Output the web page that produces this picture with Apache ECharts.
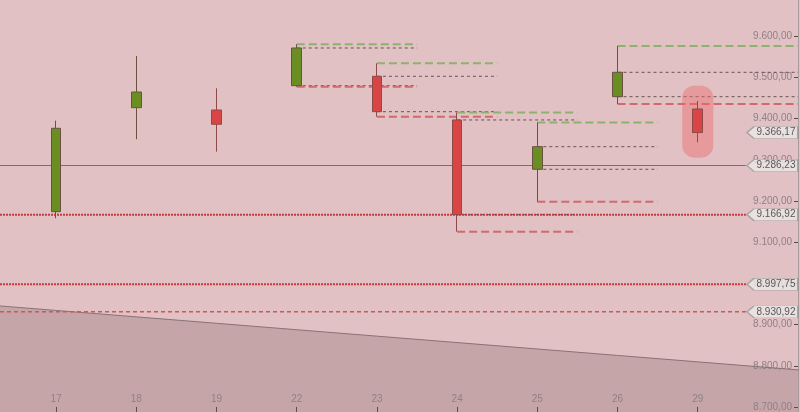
<!DOCTYPE html>
<html><head><meta charset="utf-8">
<script src="https://cdn.jsdelivr.net/npm/echarts@6/dist/echarts.min.js"></script>
<style>html,body{margin:0;padding:0;background:#e1c1c4}#c{width:800px;height:412px}</style>
</head><body><div id="c"></div>
<script>
// ---- data ----
const dates  = ['17','18','19','22','23','24','25','26','29'];
const opens  = [9174.2, 9426.6, 9421.0, 9480.0, 9502.8, 9396.8, 9277.1, 9453.3, 9423.5];
const closes = [9376.6, 9464.7, 9386.3, 9571.5, 9416.9, 9166.92, 9331.9, 9512.5, 9366.17];
const lows   = [9158.2, 9349.9, 9319.8, 9477.6, 9404.8, 9125.7, 9198.5, 9435.6, 9342.6];
const highs  = [9395.1, 9552.1, 9473.7, 9580.5, 9534.4, 9415.0, 9390.7, 9576.4, 9442.9];
const projectedCandles = [3, 4, 5, 6, 7];          // candles with high/low/body projection lines
const trendX      = [-1, 0, 1, 2, 3, 4, 5, 6, 7, 8, 9, 10];
const trendValues = [8950.0, 8934.4, 8918.8, 8903.2, 8887.6, 8872.0, 8856.4, 8840.8, 8825.2, 8809.6, 8794.0, 8778.4];
const lastClose   = 9286.23;   // solid grey level
const dottedLevels = [9166.92, 8997.75];
const dashedLevels = [8930.92];
const lastPrice   = 9366.17;
const yTicks = [8700, 8800, 8900, 9000, 9100, 9200, 9300, 9400, 9500, 9600];

function fmt(v){
  const s = Number(v).toFixed(2).split('.');
  return s[0].replace(/\B(?=(\d{3})+(?!\d))/g, '.') + ',' + s[1];
}

const X_MIN = -0.7, X_MAX = 9.25, TAG_X = 8.932, LINE_END = 8.6;
const FONT = '"Liberation Sans", Arial, sans-serif';

const series = [];

// trend area
series.push({
  type: 'line', silent: true, symbol: 'none', z: 0,
  data: trendX.map((x, i) => [x, trendValues[i]]),
  lineStyle: { color: '#8a7275', width: 1 },
  areaStyle: { color: '#c6a5a8', opacity: 1, origin: 'start' },
  animation: false
});

function hLine(y, x0, x1, style, z){
  series.push({
    type: 'line', silent: true, symbol: 'none', z: z || 1, clip: true,
    data: [[x0, y], [x1, y]], lineStyle: style, animation: false
  });
}

hLine(lastClose, X_MIN, LINE_END, { color: '#7e6c6c', width: 1, type: 'solid' });
dottedLevels.forEach(v => hLine(v, X_MIN, LINE_END, { color: '#c83a3e', width: 2, type: [2, 1] }));
dashedLevels.forEach(v => hLine(v, X_MIN, LINE_END, { color: '#d0565a', width: 1.5, type: [4, 3] }));

const GREEN_DASH = { color: '#8db26c', width: 2, type: [8, 4] };
const DARK_DASH  = { color: '#6a5252', width: 1, type: [3, 3] };
const RED_DASH   = { color: '#d06a6e', width: 2, type: [8, 4] };
projectedCandles.forEach((i, k) => {
  const end = k === projectedCandles.length - 1 ? X_MAX : i + 1.5;
  const top = Math.max(opens[i], closes[i]);
  const bot = Math.min(opens[i], closes[i]);
  hLine(highs[i], i, end, GREEN_DASH);
  hLine(top, i, end, DARK_DASH);
  hLine(bot, i, end, DARK_DASH);
  hLine(lows[i], i, end, RED_DASH);
});

// highlight capsule behind last candle
const last = dates.length - 1;
series.push({
  type: 'scatter', silent: true, z: 1.8,
  data: [[last, (highs[last] + lows[last]) / 2]],
  symbol: 'path://M12,0 L19,0 A12,12 0 0 1 31,12 L31,60 A12,12 0 0 1 19,72 L12,72 A12,12 0 0 1 0,60 L0,12 A12,12 0 0 1 12,0 Z',
  symbolSize: [31, 72],
  itemStyle: { color: 'rgba(236,104,104,0.55)' },
  animation: false
});

// candles
series.push({
  type: 'candlestick', z: 2, barWidth: 10,
  encode: { x: 0, y: [1, 2, 3, 4] },
  data: dates.map((d, i) => [i, opens[i], closes[i], lows[i], highs[i]]),
  itemStyle: {
    color: '#6b8e23', color0: '#d94545',
    borderColor: '#6a5240', borderColor0: '#8e4a48', borderWidth: 1
  },
  animation: false
});

// price tags
const tagValues = [lastPrice, lastClose].concat(dottedLevels, dashedLevels);
series.push({
  type: 'scatter', silent: true, z: 5,
  data: tagValues.map(v => [TAG_X, v]),
  symbol: 'path://M0,6 L7,0 L51,0 L51,12 L7,12 Z',
  symbolSize: [51, 12],
  itemStyle: { color: '#ebe7e7', borderColor: '#9a9696', borderWidth: 1 },
  label: {
    show: true, position: 'inside', offset: [3.5, 0],
    formatter: p => fmt(p.value[1]),
    color: '#333', fontSize: 10, fontFamily: FONT
  },
  animation: false
});

const option = {
  backgroundColor: '#e1c1c4',
  animation: false,
  grid: { left: 0, right: 2, top: 0, bottom: 0 },
  xAxis: {
    type: 'value', min: X_MIN, max: X_MAX,
    splitLine: { show: false },
    axisLine: { show: false, onZero: false },
    axisTick: { show: true, inside: true, length: 5, customValues: dates.map((d, i) => i),
                lineStyle: { color: '#5a4a4c' } },
    axisLabel: { show: true, inside: true, margin: 8, customValues: dates.map((d, i) => i),
                 formatter: v => dates[Math.round(v)] || '',
                 color: '#8d8284', fontSize: 10, fontFamily: FONT }
  },
  yAxis: {
    type: 'value', position: 'right', min: 8688, max: 9688, scale: true,
    splitLine: { show: false },
    axisLine: { show: true, onZero: false, lineStyle: { color: '#a89c9e' } },
    axisTick: { show: true, inside: true, length: 4, customValues: yTicks,
                lineStyle: { color: '#5a4a4c' } },
    axisLabel: { show: true, inside: true, margin: 6, customValues: yTicks,
                 formatter: v => fmt(v), padding: [0, 0, 3, 0],
                 color: '#8d8284', fontSize: 10, fontFamily: FONT }
  },
  series: series
};
const chart = echarts.init(document.getElementById('c'));
chart.setOption(option);
</script>
</body></html>
